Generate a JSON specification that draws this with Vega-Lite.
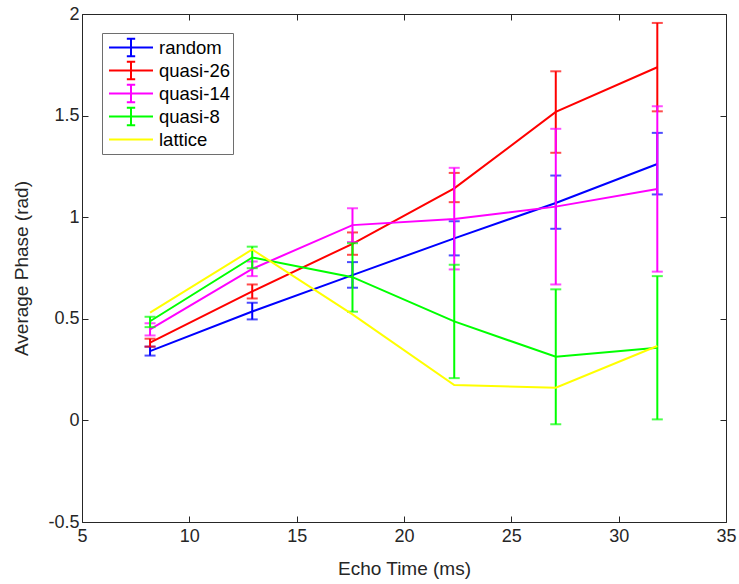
{
  "$schema": "https://vega.github.io/schema/vega-lite/v6.json",
  "width": 644,
  "height": 508,
  "autosize": {"type": "none"},
  "padding": {"left": 82, "top": 14, "right": 13, "bottom": 62},
  "background": "white",
  "data": {
    "values": [
      {"series": "random", "t": 8.17, "phase": 0.341, "lo": 0.319, "hi": 0.363},
      {"series": "random", "t": 12.93, "phase": 0.536, "lo": 0.497, "hi": 0.579},
      {"series": "random", "t": 17.6, "phase": 0.715, "lo": 0.653, "hi": 0.779},
      {"series": "random", "t": 22.34, "phase": 0.896, "lo": 0.812, "hi": 0.98},
      {"series": "random", "t": 27.07, "phase": 1.07, "lo": 0.943, "hi": 1.205},
      {"series": "random", "t": 31.8, "phase": 1.262, "lo": 1.112, "hi": 1.415},
      {"series": "quasi-26", "t": 8.17, "phase": 0.383, "lo": 0.363, "hi": 0.402},
      {"series": "quasi-26", "t": 12.93, "phase": 0.635, "lo": 0.6, "hi": 0.669},
      {"series": "quasi-26", "t": 17.6, "phase": 0.869, "lo": 0.815, "hi": 0.925},
      {"series": "quasi-26", "t": 22.34, "phase": 1.142, "lo": 1.074, "hi": 1.218},
      {"series": "quasi-26", "t": 27.07, "phase": 1.518, "lo": 1.317, "hi": 1.718},
      {"series": "quasi-26", "t": 31.8, "phase": 1.738, "lo": 1.521, "hi": 1.956},
      {"series": "quasi-14", "t": 8.17, "phase": 0.448, "lo": 0.418, "hi": 0.478},
      {"series": "quasi-14", "t": 12.93, "phase": 0.746, "lo": 0.71, "hi": 0.782},
      {"series": "quasi-14", "t": 17.6, "phase": 0.961, "lo": 0.878, "hi": 1.044},
      {"series": "quasi-14", "t": 22.34, "phase": 0.991, "lo": 0.743, "hi": 1.243},
      {"series": "quasi-14", "t": 27.07, "phase": 1.052, "lo": 0.669, "hi": 1.435},
      {"series": "quasi-14", "t": 31.8, "phase": 1.139, "lo": 0.732, "hi": 1.546},
      {"series": "quasi-8", "t": 8.17, "phase": 0.488, "lo": 0.459, "hi": 0.51},
      {"series": "quasi-8", "t": 12.93, "phase": 0.802, "lo": 0.749, "hi": 0.855},
      {"series": "quasi-8", "t": 17.6, "phase": 0.705, "lo": 0.535, "hi": 0.872},
      {"series": "quasi-8", "t": 22.34, "phase": 0.487, "lo": 0.208, "hi": 0.766},
      {"series": "quasi-8", "t": 27.07, "phase": 0.313, "lo": -0.019, "hi": 0.645},
      {"series": "quasi-8", "t": 31.8, "phase": 0.357, "lo": 0.005, "hi": 0.71},
      {"series": "lattice", "t": 8.17, "phase": 0.53},
      {"series": "lattice", "t": 12.93, "phase": 0.841},
      {"series": "lattice", "t": 17.6, "phase": 0.522},
      {"series": "lattice", "t": 22.34, "phase": 0.174},
      {"series": "lattice", "t": 27.07, "phase": 0.161},
      {"series": "lattice", "t": 31.8, "phase": 0.366}
    ]
  },
  "layer": [
    {
      "encoding": {
        "x": {"field": "t", "type": "quantitative", "scale": {"domain": [5, 35]}, "title": "Echo Time (ms)",
              "axis": {"values": [5, 10, 15, 20, 25, 30, 35], "labelExpr": "datum.value + ''", "labelFlush": false, "labelOverlap": false, "titleY": 52, "titleBaseline": "alphabetic", "labelPadding": 11}},
        "color": {"field": "series", "type": "nominal",
                  "scale": {"domain": ["random", "quasi-26", "quasi-14", "quasi-8", "lattice"], "range": ["#0000ff", "#ff0000", "#ff00ff", "#00ff00", "#ffff00"]},
                  "legend": {"orient": "none", "legendX": 20, "legendY": 19, "title": null, "symbolSize": 1936, "symbolStrokeWidth": 2,
                             "symbolType": "M-1,0H1M0,-0.4V0.4M-0.19,-0.4H0.19M-0.19,0.4H0.19", "symbolFillColor": "transparent",
                             "clipHeight": 23, "rowPadding": 0, "padding": 3, "symbolOffset": 3, "labelOffset": 5,
                             "labelFontSize": 18.5, "labelFont": "Liberation Sans", "labelColor": "#000000", "labelLimit": 300,
                             "strokeColor": "#6e6e6e", "fillColor": "white",
                             "encode": {"symbols": {"update": {"shape": {"signal": "datum.value === 'lattice' ? 'M-1,0H1' : 'M-1,0H1M0,-0.4V0.4M-0.19,-0.4H0.19M-0.19,0.4H0.19'"}}}}}}
      },
      "layer": [
        {
          "transform": [{"filter": "datum.series === 'random'"}],
          "layer": [
            {"mark": {"type": "line", "strokeWidth": 2}, "encoding": {"y": {"field": "phase", "type": "quantitative", "scale": {"domain": [-0.5, 2]}, "title": "Average Phase (rad)", "axis": {"values": [-0.5, 0, 0.5, 1, 1.5, 2], "labelOverlap": false}}}},
            {"mark": {"type": "rule", "strokeWidth": 2}, "encoding": {"y": {"field": "lo", "type": "quantitative", "scale": {"domain": [-0.5, 2]}, "title": "Average Phase (rad)"}, "y2": {"field": "hi"}}},
            {"mark": {"type": "tick", "orient": "horizontal", "thickness": 2, "size": 11}, "encoding": {"y": {"field": "lo", "type": "quantitative", "scale": {"domain": [-0.5, 2]}, "title": "Average Phase (rad)"}}},
            {"mark": {"type": "tick", "orient": "horizontal", "thickness": 2, "size": 11}, "encoding": {"y": {"field": "hi", "type": "quantitative", "scale": {"domain": [-0.5, 2]}, "title": "Average Phase (rad)"}}}
          ]
        },
        {
          "transform": [{"filter": "datum.series === 'quasi-26'"}],
          "layer": [
            {"mark": {"type": "line", "strokeWidth": 2}, "encoding": {"y": {"field": "phase", "type": "quantitative", "scale": {"domain": [-0.5, 2]}, "title": "Average Phase (rad)"}}},
            {"mark": {"type": "rule", "strokeWidth": 2}, "encoding": {"y": {"field": "lo", "type": "quantitative", "scale": {"domain": [-0.5, 2]}, "title": "Average Phase (rad)"}, "y2": {"field": "hi"}}},
            {"mark": {"type": "tick", "orient": "horizontal", "thickness": 2, "size": 11}, "encoding": {"y": {"field": "lo", "type": "quantitative", "scale": {"domain": [-0.5, 2]}, "title": "Average Phase (rad)"}}},
            {"mark": {"type": "tick", "orient": "horizontal", "thickness": 2, "size": 11}, "encoding": {"y": {"field": "hi", "type": "quantitative", "scale": {"domain": [-0.5, 2]}, "title": "Average Phase (rad)"}}}
          ]
        },
        {
          "transform": [{"filter": "datum.series === 'quasi-14'"}],
          "layer": [
            {"mark": {"type": "line", "strokeWidth": 2}, "encoding": {"y": {"field": "phase", "type": "quantitative", "scale": {"domain": [-0.5, 2]}, "title": "Average Phase (rad)"}}},
            {"mark": {"type": "rule", "strokeWidth": 2}, "encoding": {"y": {"field": "lo", "type": "quantitative", "scale": {"domain": [-0.5, 2]}, "title": "Average Phase (rad)"}, "y2": {"field": "hi"}}},
            {"mark": {"type": "tick", "orient": "horizontal", "thickness": 2, "size": 11}, "encoding": {"y": {"field": "lo", "type": "quantitative", "scale": {"domain": [-0.5, 2]}, "title": "Average Phase (rad)"}}},
            {"mark": {"type": "tick", "orient": "horizontal", "thickness": 2, "size": 11}, "encoding": {"y": {"field": "hi", "type": "quantitative", "scale": {"domain": [-0.5, 2]}, "title": "Average Phase (rad)"}}}
          ]
        },
        {
          "transform": [{"filter": "datum.series === 'quasi-8'"}],
          "layer": [
            {"mark": {"type": "line", "strokeWidth": 2}, "encoding": {"y": {"field": "phase", "type": "quantitative", "scale": {"domain": [-0.5, 2]}, "title": "Average Phase (rad)"}}},
            {"mark": {"type": "rule", "strokeWidth": 2}, "encoding": {"y": {"field": "lo", "type": "quantitative", "scale": {"domain": [-0.5, 2]}, "title": "Average Phase (rad)"}, "y2": {"field": "hi"}}},
            {"mark": {"type": "tick", "orient": "horizontal", "thickness": 2, "size": 11}, "encoding": {"y": {"field": "lo", "type": "quantitative", "scale": {"domain": [-0.5, 2]}, "title": "Average Phase (rad)"}}},
            {"mark": {"type": "tick", "orient": "horizontal", "thickness": 2, "size": 11}, "encoding": {"y": {"field": "hi", "type": "quantitative", "scale": {"domain": [-0.5, 2]}, "title": "Average Phase (rad)"}}}
          ]
        },
        {
          "transform": [{"filter": "datum.series === 'lattice'"}],
          "mark": {"type": "line", "strokeWidth": 2},
          "encoding": {"y": {"field": "phase", "type": "quantitative", "scale": {"domain": [-0.5, 2]}, "title": "Average Phase (rad)"}}
        }
      ]
    },
    {
      "mark": {"type": "point", "opacity": 0},
      "encoding": {
        "x": {"field": "t", "type": "quantitative", "scale": {"domain": [5, 35]},
              "axis": {"orient": "top", "values": [5, 10, 15, 20, 25, 30, 35], "labels": false, "title": null}},
        "y": {"field": "phase", "type": "quantitative", "scale": {"domain": [-0.5, 2]},
              "axis": {"orient": "right", "values": [-0.5, 0, 0.5, 1, 1.5, 2], "labels": false, "title": null}}
      }
    }
  ],
  "resolve": {"axis": {"x": "independent", "y": "independent"}},
  "config": {
    "font": "Liberation Sans",
    "view": {"stroke": "#262626", "strokeWidth": 1},
    "axis": {"domain": false, "grid": false, "tickColor": "#262626", "tickSize": -6, "tickWidth": 1,
             "labelColor": "#262626", "labelFontSize": 18, "labelFont": "Liberation Sans",
             "titleColor": "#262626", "titleFontSize": 19, "titleFontWeight": "normal", "titleFont": "Liberation Sans"},
    "axisY": {"labelExpr": "datum.value + ''", "labelOverlap": false, "labelPadding": 9,
              "titleX": -55, "titleBaseline": "alphabetic", "titleAngle": -90}
  }
}
